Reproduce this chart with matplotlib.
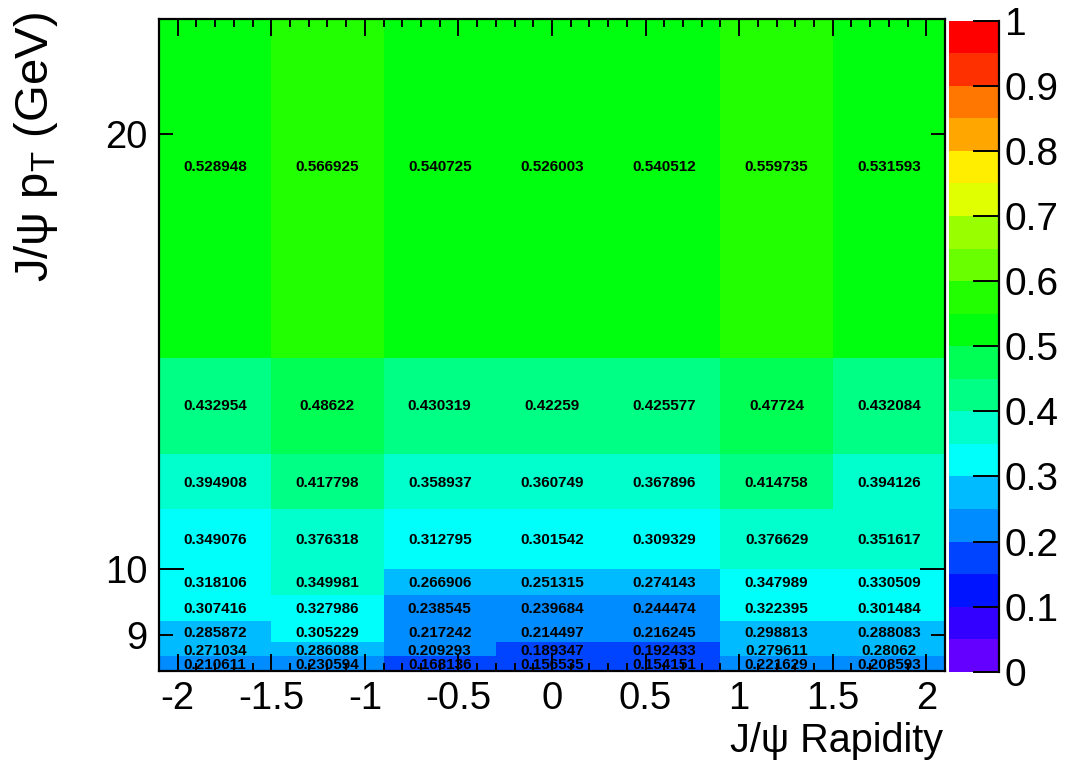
import numpy as np
import matplotlib
matplotlib.use("Agg")
import matplotlib.pyplot as plt
from matplotlib.colors import ListedColormap, BoundaryNorm
from matplotlib.ticker import FixedLocator, FixedFormatter
from matplotlib.cm import ScalarMappable

plt.rcParams['font.family'] = ['Liberation Sans', 'DejaVu Sans']
plt.rcParams['mathtext.fontset'] = 'custom'
plt.rcParams['mathtext.rm'] = 'Liberation Sans'
plt.rcParams['mathtext.it'] = 'Liberation Sans:italic'

# ---------------- data ----------------
rap_edges = [-2.1, -1.5, -0.9, -0.3, 0.3, 0.9, 1.5, 2.1]
pt_edges = [8.5, 8.7, 8.9, 9.2, 9.6, 10, 11, 12, 14, 24]

# rows from lowest pT bin to highest, columns from lowest rapidity
row_85_87 = [0.210611, 0.230594, 0.168136, 0.156535, 0.154151, 0.221629, 0.208593]
row_87_89 = [0.271034, 0.286088, 0.209293, 0.189347, 0.192433, 0.279611, 0.28062]
row_89_92 = [0.285872, 0.305229, 0.217242, 0.214497, 0.216245, 0.298813, 0.288083]
row_92_96 = [0.307416, 0.327986, 0.238545, 0.239684, 0.244474, 0.322395, 0.301484]
row_96_10 = [0.318106, 0.349981, 0.266906, 0.251315, 0.274143, 0.347989, 0.330509]
row_10_11 = [0.349076, 0.376318, 0.312795, 0.301542, 0.309329, 0.376629, 0.351617]
row_11_12 = [0.394908, 0.417798, 0.358937, 0.360749, 0.367896, 0.414758, 0.394126]
row_12_14 = [0.432954, 0.48622, 0.430319, 0.42259, 0.425577, 0.47724, 0.432084]
row_14_24 = [0.528948, 0.566925, 0.540725, 0.526003, 0.540512, 0.559735, 0.531593]

y_ticks_major = [10]
y_ticks_minor = [9, 20]
x_ticks = [-2, -1.5, -1, -0.5, 0, 0.5, 1, 1.5, 2]
z_ticks = [0, 0.1, 0.2, 0.3, 0.4, 0.5, 0.6, 0.7, 0.8, 0.9, 1]

palette = ['#6300ff', '#3300ff', '#0014ff', '#0044ff', '#008bff',
           '#00bbff', '#00fffb', '#00ffcc', '#00ff85', '#00ff55',
           '#00ff0e', '#22ff00', '#69ff00', '#99ff00', '#e0ff00',
           '#ffee00', '#ffa700', '#ff7700', '#ff3000', '#ff0000']

# --------------------------------------
Z = np.array([row_85_87, row_87_89, row_89_92, row_92_96, row_96_10,
              row_10_11, row_11_12, row_12_14, row_14_24])
xe = np.array(rap_edges)
ye = np.array(pt_edges)

cmap = ListedColormap(palette)
ncont = len(palette)
# ROOT assigns colour index int(0.01 + z*ncont)
cell_norm = BoundaryNorm(np.linspace(0, 1, ncont + 1) - 0.01 / ncont, ncont)
bar_norm = BoundaryNorm(np.linspace(0, 1, ncont + 1), ncont)

W, H = 1068, 768
fig = plt.figure(figsize=(W / 100, H / 100), dpi=100)
L, R, T, B = 159, 945, 19, 671
ax = fig.add_axes([L / W, 1 - B / H, (R - L) / W, (B - T) / H])

ax.pcolormesh(xe, ye, Z, cmap=cmap, norm=cell_norm, shading='flat')
ax.set_yscale('log')
ax.set_xlim(xe[0], xe[-1])
ax.set_ylim(ye[0], ye[-1])

xc = 0.5 * (xe[:-1] + xe[1:])
yc = 0.5 * (ye[:-1] + ye[1:])
for j in range(Z.shape[0]):
    for i in range(Z.shape[1]):
        ax.text(xc[i], yc[j], f"{Z[j, i]:g}", ha='center', va='center_baseline',
                fontsize=11, fontweight='bold', color='black', zorder=3)

# ticks
ax.xaxis.set_major_locator(FixedLocator(x_ticks))
ax.xaxis.set_major_formatter(FixedFormatter([f"{v:g}" for v in x_ticks]))
ax.xaxis.set_minor_locator(FixedLocator(np.round(np.arange(-2.1, 2.11, 0.1), 2)))
ax.yaxis.set_major_locator(FixedLocator(y_ticks_major))
ax.yaxis.set_major_formatter(FixedFormatter([f"{v:g}" for v in y_ticks_major]))
ax.yaxis.set_minor_locator(FixedLocator(y_ticks_minor))
ax.yaxis.set_minor_formatter(FixedFormatter([f"{v:g}" for v in y_ticks_minor]))

ax.tick_params(which='both', direction='in', top=True, right=True, width=1.4,
               labelsize=27.5, colors='black')
ax.tick_params(axis='x', which='major', length=12, pad=7)
ax.tick_params(axis='x', which='minor', length=6)
ax.tick_params(axis='y', which='major', length=18, pad=8)
ax.tick_params(axis='y', which='minor', length=10, pad=8, labelsize=27.5)
for s in ax.spines.values():
    s.set_linewidth(1.6)

# axis titles
fig.text(943 / W, 1 - 741 / H, 'J/ψ Rapidity', ha='right', va='center', fontsize=28.5)
fig.text(36 / W, 1 - 12 / H, r'J/ψ p$_{\mathrm{T}}$ (GeV)', rotation=90,
         ha='center', va='top', fontsize=34)

# colour bar
cL, cR, cT, cB = 949, 999, 20.7, 671.7
cax = fig.add_axes([cL / W, 1 - cB / H, (cR - cL) / W, (cB - cT) / H])
cb = fig.colorbar(ScalarMappable(norm=bar_norm, cmap=cmap), cax=cax, ticks=z_ticks)
cb.outline.set_visible(False)
cb.set_ticklabels([f"{v:g}" for v in z_ticks])
cax.tick_params(direction='in', length=19, width=1.4, labelsize=28, pad=4)
cax.minorticks_off()
cax.plot([1, 1], [0, 1], color='black', lw=1.6, transform=cax.transAxes, clip_on=False)

fig.savefig('out.png', dpi=100)
